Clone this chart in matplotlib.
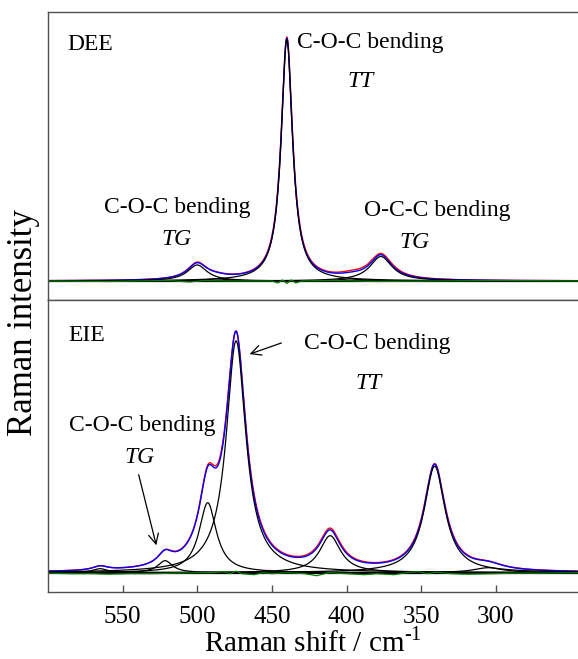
import numpy as np
import matplotlib
matplotlib.use("Agg")
import matplotlib.pyplot as plt

plt.rcParams['font.family'] = ['Liberation Serif', 'DejaVu Serif']
plt.rcParams['mathtext.fontset'] = 'custom'
plt.rcParams['mathtext.rm'] = 'Liberation Serif'

# fitted bands: centre (cm-1), height, half width
dee_centre = [500, 487, 440, 397, 377]
dee_height = [16, 2, 242, 2, 24.5]
dee_hwhm = [8, 10, 4.6, 10, 9]
dee_obs_height = [16.5, 2, 243, 3, 25.5]
dee_obs_hwhm = [8, 10, 4.7, 10, 9.5]

eie_centre = [565, 521.5, 493, 474, 411, 341, 305]
eie_height = [4, 12, 70, 232, 37, 106.5, 5]
eie_hwhm = [6, 6, 7, 8, 8.5, 8.5, 12]
eie_obs_height = [4, 12, 70, 232, 38.5, 107, 5]
eie_obs_hwhm = [6, 6, 7, 8.2, 8.8, 8.7, 12]

# residuals
dee_res_x = [600, 560, 520, 505, 495, 480, 450, 446, 443, 440, 437, 434, 430, 410, 380, 340, 300, 245]
dee_res_y = [0, -0.5, 0.5, -1, 0.5, 0, 0, -2, 1, -2.5, 1, -2, 0, 0.5, -0.5, 0, 0.5, 0]
eie_res_x = [600, 585, 570, 560, 545, 530, 515, 500, 490, 482, 478, 474, 470, 462, 456, 450,
             440, 428, 420, 412, 400, 388, 380, 368, 360, 352, 346, 340, 330, 320, 300, 290, 270, 245]
eie_res_y = [-0.5, -1, -1, -1.5, -1, -1, -0.5, 0, 0, 1, -1, 1.5, -1, -2, 0, -1,
             0, -1, -3, 0, -1, -2, -1, -2, 0, 1, -1, 0.5, -1, -1.5, -1, -0.5, -0.5, 0]

x = np.arange(245, 601, 0.5)


def lorentz(c, h, g):
    return h / (1 + ((x - c) / g) ** 2)


fig = plt.figure(figsize=(5.78, 6.59), dpi=100)
ax1 = fig.add_axes([0.083, 0.5448, 0.917, 0.437])
ax2 = fig.add_axes([0.083, 0.1017, 0.917, 0.443])

panels = [
    (ax1, dee_centre, dee_height, dee_hwhm, dee_obs_height, dee_obs_hwhm, dee_res_x, dee_res_y),
    (ax2, eie_centre, eie_height, eie_hwhm, eie_obs_height, eie_obs_hwhm, eie_res_x, eie_res_y),
]
for ax, cen, hei, wid, ohei, owid, rx, ry in panels:
    comps = [lorentz(c, h, g) for c, h, g in zip(cen, hei, wid)]
    fit = np.sum(comps, axis=0)
    obs = np.sum([lorentz(c, h, g) for c, h, g in zip(cen, ohei, owid)], axis=0)
    ax.plot(x, obs, color='red', lw=1.0)
    ax.plot(x, fit, color='blue', lw=1.0)
    for comp in comps:
        ax.plot(x, comp, color='black', lw=0.9)
    ax.axhline(0, color='black', lw=0.9)
    ax.plot(rx, ry, color='#008000', lw=0.9)
    ax.set_xlim(600, 245)
    for s in ax.spines.values():
        s.set_color('#505050')
        s.set_linewidth(1.0)
    ax.spines['right'].set_visible(False)
    ax.set_yticks([])

ax1.set_ylim(-19, 269)
ax2.set_ylim(-19.3, 272.7)
ax1.set_xticks([])
ax2.set_xticks([550, 500, 450, 400, 350, 300])
ax2.tick_params(axis='x', direction='in', length=5, width=1, color='#505050',
                labelsize=18, pad=10)
ax2.set_xlabel('Raman shift / cm$^{\\text{-1}}$', fontsize=21, labelpad=0)
fig.text(0.040, 0.51, 'Raman intensity', rotation=90, fontsize=25,
         ha='center', va='center')

fs = 17
ax1.text(586.9, 236, 'DEE', fontsize=fs, va='center')
ax1.text(433.2, 238, 'C-O-C bending', fontsize=fs, va='center')
ax1.text(390.3, 199, 'TT', fontsize=fs, style='italic', ha='center', va='center')
ax1.text(562.5, 73, 'C-O-C bending', fontsize=fs, va='center')
ax1.text(513.6, 41, 'TG', fontsize=fs, style='italic', ha='center', va='center')
ax1.text(388.3, 70, 'O-C-C bending', fontsize=fs, va='center')
ax1.text(354.8, 38, 'TG', fontsize=fs, style='italic', ha='center', va='center')

ax2.text(586.6, 237.7, 'EIE', fontsize=fs, va='center')
ax2.text(428.6, 229.7, 'C-O-C bending', fontsize=fs, va='center')
ax2.text(385.6, 189.7, 'TT', fontsize=fs, style='italic', ha='center', va='center')
ax2.text(586, 147.7, 'C-O-C bending', fontsize=fs, va='center')
ax2.text(538.4, 115.7, 'TG', fontsize=fs, style='italic', ha='center', va='center')
ax2.annotate('', xy=(466.7, 217.7), xytext=(441.9, 230.7),
             arrowprops=dict(arrowstyle='->', color='black', lw=0.9, mutation_scale=18))
ax2.annotate('', xy=(527, 24.7), xytext=(539.7, 100.7),
             arrowprops=dict(arrowstyle='->', color='black', lw=0.9, mutation_scale=18))

fig.savefig('out.png', dpi=100)
